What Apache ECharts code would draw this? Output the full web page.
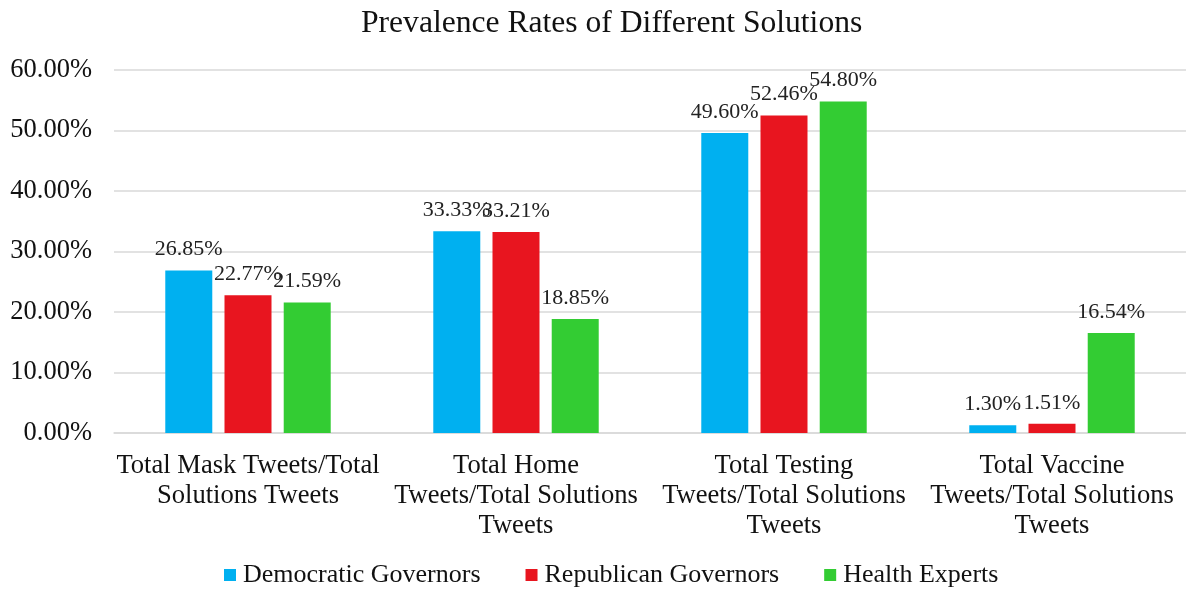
<!DOCTYPE html>
<html>
<head>
<meta charset="utf-8">
<script src="https://cdn.jsdelivr.net/npm/echarts@6/dist/echarts.min.js"></script>
<style>
  html, body { margin: 0; padding: 0; background: #fff; }
  #chart { width: 1186px; height: 594px; }
</style>
</head>
<body>
<div id="chart"></div>
<script>
const categories = [
  'Total Mask Tweets/Total\nSolutions Tweets',
  'Total Home\nTweets/Total Solutions\nTweets',
  'Total Testing\nTweets/Total Solutions\nTweets',
  'Total Vaccine\nTweets/Total Solutions\nTweets'
]
const seriesNames = ['Democratic Governors', 'Republican Governors', 'Health Experts']
const democratic = [26.85, 33.33, 49.60, 1.30]
const republican = [22.77, 33.21, 52.46, 1.51]
const healthExperts = [21.59, 18.85, 54.80, 16.54]
const colors = ['#00B0F0', '#E8151F', '#33CC33']

const font = '"Liberation Serif", "Times New Roman", serif'

function makeSeries(name, data) {
  return {
    name: name,
    type: 'bar',
    data: data,
    barWidth: 47,
    barGap: '26%',
    label: {
      show: true,
      position: 'top',
      distance: 10,
      fontFamily: font,
      fontSize: 22,
      color: '#222',
      formatter: function (p) { return p.value.toFixed(2) + '%' }
    }
  }
}

const chart = echarts.init(document.getElementById('chart'))
chart.setOption({
  animation: false,
  color: colors,
  textStyle: { fontFamily: font },
  title: {
    text: 'Prevalence Rates of Different Solutions',
    left: 356,
    top: 3,
    textStyle: { fontFamily: font, fontSize: 31.6, fontWeight: 'normal', color: '#111' }
  },
  legend: {
    data: seriesNames,
    bottom: 1,
    left: 219,
    icon: 'rect',
    itemWidth: 12,
    itemHeight: 12,
    itemGap: 45,
    itemStyle: { borderWidth: 0 },
    textStyle: { fontFamily: font, fontSize: 26, color: '#111', padding: [0, 0, 0, 2] }
  },
  grid: { left: 114, right: 0, top: 70, bottom: 161 },
  xAxis: {
    type: 'category',
    data: categories,
    axisLine: { lineStyle: { color: '#d9d9d9', width: 1.5 } },
    axisTick: { show: false },
    axisLabel: {
      interval: 0,
      margin: 18,
      lineHeight: 30,
      fontFamily: font,
      fontSize: 26.6,
      color: '#111'
    }
  },
  yAxis: {
    type: 'value',
    min: 0,
    max: 60,
    interval: 10,
    axisLine: { show: false },
    axisTick: { show: false },
    splitLine: { lineStyle: { color: '#d9d9d9', width: 1.5 } },
    axisLabel: {
      margin: 22,
      fontFamily: font,
      fontSize: 26.5,
      color: '#111',
      formatter: function (v) { return v.toFixed(2) + '%' }
    }
  },
  series: [
    makeSeries(seriesNames[0], democratic),
    makeSeries(seriesNames[1], republican),
    makeSeries(seriesNames[2], healthExperts)
  ]
})
</script>
</body>
</html>
